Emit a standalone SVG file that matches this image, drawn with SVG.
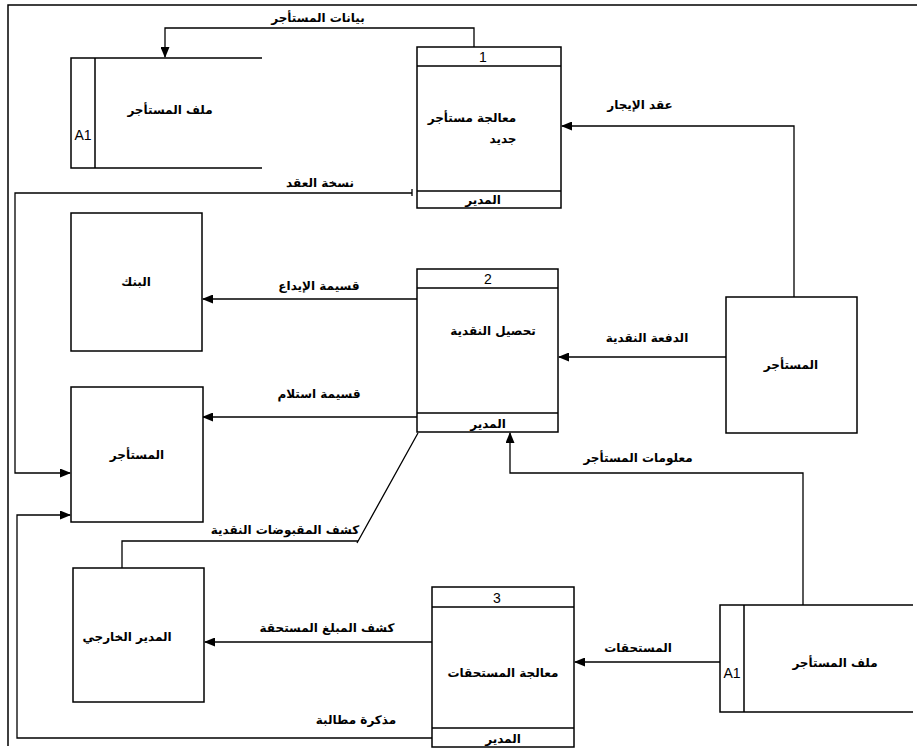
<svg xmlns="http://www.w3.org/2000/svg" width="917" height="750" viewBox="0 0 917 750">
<defs>
<marker id="arr" markerWidth="11" markerHeight="9" refX="10" refY="4.5" orient="auto" markerUnits="userSpaceOnUse">
<path d="M0,0 L11,4.5 L0,9 z" fill="#000"/>
</marker>
<style>
.box{fill:#fff;stroke:#000;stroke-width:1.5}
.ln{fill:none;stroke:#000;stroke-width:1.3}
.fr{fill:none;stroke:#000;stroke-width:1.5}
.lb{font-family:"DejaVu Sans",sans-serif;font-size:12px;font-weight:bold;fill:#000;text-anchor:middle}
.nm{font-family:"Liberation Sans",Arial,sans-serif;font-size:14px;fill:#000;text-anchor:middle}
</style>
</defs>
<rect width="917" height="750" fill="#fff"/>
<g id="frame">
<path class="fr" d="M917,5 H8 V746"/>
</g>
<g id="connectors">
<path class="ln" d="M474,47 V28 H165 V57" marker-end="url(#arr)"/>
<text class="lb" x="318" y="22">بيانات المستأجر</text>
<path class="ln" d="M794,297 V126 H562" marker-end="url(#arr)"/>
<text class="lb" x="640" y="109">عقد الإيجار</text>
<path class="ln" d="M412,193 H15 V473 H70" marker-end="url(#arr)"/>
<path class="ln" d="M412,189 V196"/>
<text class="lb" x="320" y="187">نسخة العقد</text>
<path class="ln" d="M417,299 H203" marker-end="url(#arr)"/>
<text class="lb" x="319" y="290">قسيمة الإيداع</text>
<path class="ln" d="M417,417 H203" marker-end="url(#arr)"/>
<text class="lb" x="319" y="398">قسيمة استلام</text>
<path class="ln" d="M726,357 H559" marker-end="url(#arr)"/>
<text class="lb" x="647" y="342">الدفعة النقدية</text>
<path class="ln" d="M803,605 V473 H510 V433" marker-end="url(#arr)"/>
<text class="lb" x="638" y="462">معلومات المستأجر</text>
<path class="ln" d="M418,433 L357,543 M358,541 H122 V568"/>
<text class="lb" x="285" y="534">كشف المقبوضات النقدية</text>
<path class="ln" d="M432,642 H205" marker-end="url(#arr)"/>
<text class="lb" x="327" y="632">كشف المبلغ المستحقة</text>
<path class="ln" d="M432,738 H17 V515 H70" marker-end="url(#arr)"/>
<text class="lb" x="356" y="724">مذكرة مطالبة</text>
<path class="ln" d="M720,662 H575" marker-end="url(#arr)"/>
<text class="lb" x="638" y="652">المستحقات</text>
</g>
<g id="store-top">
<path class="fr" d="M262,58 H71 V168 H262 M95,58 V168"/>
<text class="nm" x="83" y="140">A1</text>
<text class="lb" x="170" y="114">ملف المستأجر</text>
</g>
<g id="process-1">
<rect class="box" x="417" y="47" width="144" height="161"/>
<path class="ln" d="M417,66 H561 M417,191 H561"/>
<text class="nm" x="483" y="62">1</text>
<text class="lb" x="472" y="122">معالجة مستأجر</text>
<text class="lb" x="503" y="143">جديد</text>
<text class="lb" x="483" y="204">المدير</text>
</g>
<g id="bank">
<rect class="box" x="71" y="213" width="131" height="138"/>
<text class="lb" x="136" y="286">البنك</text>
</g>
<g id="process-2">
<rect class="box" x="417" y="269" width="141" height="163"/>
<path class="ln" d="M417,288 H558 M417,413 H558"/>
<text class="nm" x="488" y="284">2</text>
<text class="lb" x="493" y="335">تحصيل النقدية</text>
<text class="lb" x="488" y="428">المدير</text>
</g>
<g id="tenant-right">
<rect class="box" x="726" y="297" width="131" height="136"/>
<text class="lb" x="791" y="369">المستأجر</text>
</g>
<g id="tenant-left">
<rect class="box" x="71" y="387" width="132" height="135"/>
<text class="lb" x="137" y="459">المستأجر</text>
</g>
<g id="external-manager">
<rect class="box" x="73" y="568" width="131" height="134"/>
<text class="lb" x="127" y="641">المدير الخارجي</text>
</g>
<g id="process-3">
<rect class="box" x="432" y="587" width="142" height="160"/>
<path class="ln" d="M432,607 H574 M432,728 H574"/>
<text class="nm" x="497" y="603">3</text>
<text class="lb" x="503" y="677">معالجة المستحقات</text>
<text class="lb" x="503" y="743">المدير</text>
</g>
<g id="store-bottom">
<path class="fr" d="M913,605 H720 V712 H913 M744,605 V712"/>
<text class="nm" x="732" y="678">A1</text>
<text class="lb" x="835" y="667">ملف المستأجر</text>
</g>
</svg>
